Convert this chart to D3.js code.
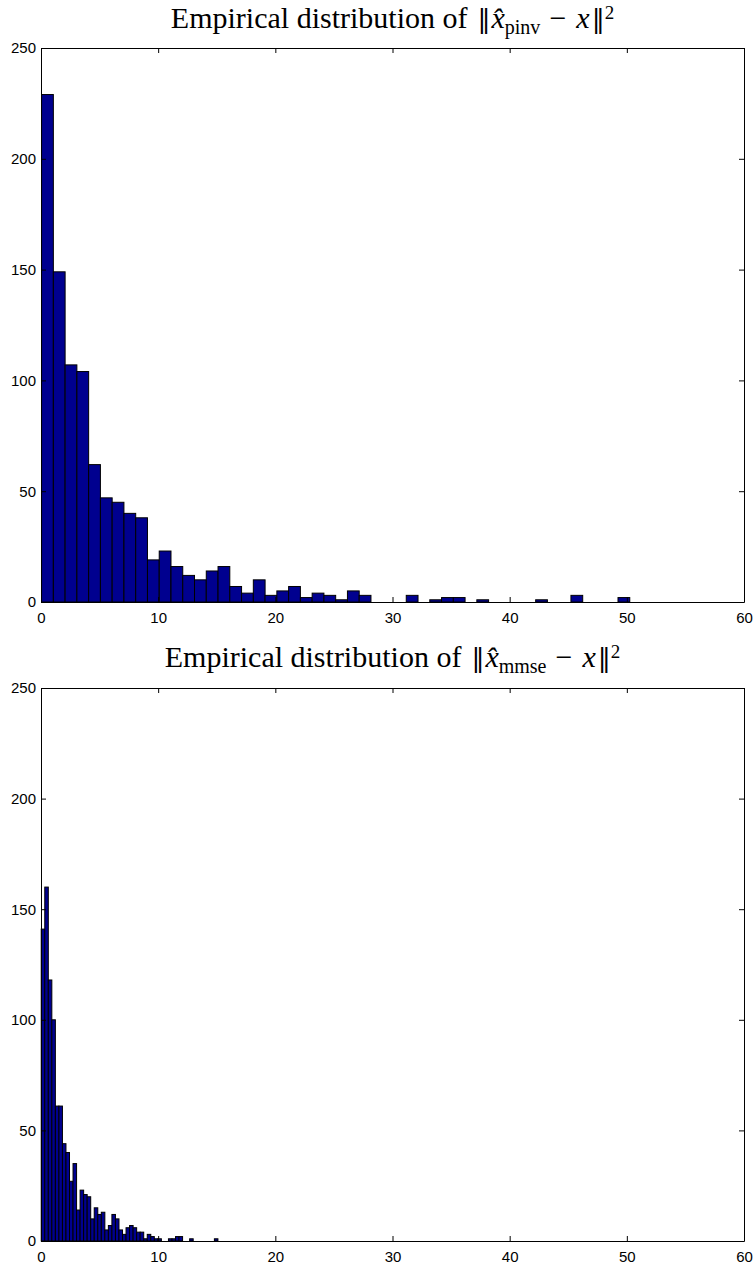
<!DOCTYPE html>
<html lang="en">
<head>
    <meta charset="UTF-8">
    <title>Empirical distributions</title>
    <script src="https://d3js.org/d3.v7.min.js"></script>
    <style>
        body { margin: 0; background: #fff; }
        .tick text { font-family: "Liberation Sans", Arial, sans-serif; font-size: 15px; fill: #000; }
        .axis path, .axis line { stroke: #000; }
        .title { font-family: "Liberation Serif", "DejaVu Serif", serif; font-size: 30px; fill: #000; }
        .norm { font-family: "DejaVu Serif", serif; font-size: 26px; }
    </style>
</head>
<body>
    <div id="chart"></div>

    <script>
        // Histogram counts, 50 bins each
        const pinvCounts = [229, 149, 107, 104, 62, 47, 45, 40, 38, 19,
                            23, 16, 12, 10, 14, 16, 7, 4, 10, 3,
                            5, 7, 2, 4, 3, 1, 5, 3, 0, 0,
                            0, 3, 0, 1, 2, 2, 0, 1, 0, 0,
                            0, 0, 1, 0, 0, 3, 0, 0, 0, 2];
        const pinvRange = [0.05, 50.25];

        const mmseCounts = [141, 160, 118, 100, 61, 61, 44, 40, 27, 35,
                            14, 23, 21, 20, 10, 15, 12, 13, 5, 7,
                            12, 10, 5, 3, 6, 7, 6, 4, 4, 1,
                            3, 2, 1, 1, 0, 0, 1, 1, 2, 2,
                            0, 0, 1, 0, 0, 0, 0, 0, 0, 1];
        const mmseRange = [0.02, 15.1];

        const xTicks = [0, 10, 20, 30, 40, 50, 60];
        const yTicks = [0, 50, 100, 150, 200, 250];

        // Layout
        const width = 755, height = 1268;
        const left = 41, right = 744;
        const panels = [
            { counts: pinvCounts, range: pinvRange, sub: "pinv", top: 48, bottom: 602, titleY: 28 },
            { counts: mmseCounts, range: mmseRange, sub: "mmse", top: 688, bottom: 1241, titleY: 667 }
        ];

        const svg = d3.select("#chart").append("svg")
            .attr("width", width)
            .attr("height", height);

        const x = d3.scaleLinear().domain([0, 60]).range([left, right]);

        panels.forEach(p => {
            const y = d3.scaleLinear().domain([0, 250]).range([p.bottom, p.top]);
            const g = svg.append("g");

            // bars
            const n = p.counts.length;
            const w = (p.range[1] - p.range[0]) / n;
            const bins = p.counts.map((c, i) => ({ x0: p.range[0] + i * w, x1: p.range[0] + (i + 1) * w, c }))
                .filter(d => d.c > 0);

            g.selectAll("rect")
                .data(bins)
                .enter().append("rect")
                .attr("x", d => x(d.x0))
                .attr("y", d => y(d.c))
                .attr("width", d => x(d.x1) - x(d.x0))
                .attr("height", d => y(0) - y(d.c))
                .attr("fill", "#00008f")
                .attr("stroke", "#000")
                .attr("stroke-width", 1);

            // axes, ticks pointing inwards
            g.append("g").attr("class", "axis")
                .attr("transform", `translate(0,${p.bottom})`)
                .call(d3.axisBottom(x).tickValues(xTicks).tickSizeInner(-5).tickSizeOuter(0).tickPadding(10));
            g.append("g").attr("class", "axis")
                .attr("transform", `translate(0,${p.top})`)
                .call(d3.axisTop(x).tickValues(xTicks).tickSizeInner(-5).tickSizeOuter(0).tickFormat(""));
            g.append("g").attr("class", "axis")
                .attr("transform", `translate(${left},0)`)
                .call(d3.axisLeft(y).tickValues(yTicks).tickSizeInner(-5).tickSizeOuter(0).tickPadding(5));
            g.append("g").attr("class", "axis")
                .attr("transform", `translate(${right},0)`)
                .call(d3.axisRight(y).tickValues(yTicks).tickSizeInner(-5).tickSizeOuter(0).tickFormat(""));

            // title
            const t = g.append("text")
                .attr("class", "title")
                .attr("x", (left + right) / 2)
                .attr("y", p.titleY)
                .attr("text-anchor", "middle");
            t.append("tspan").text("Empirical distribution of");
            t.append("tspan").attr("class", "norm").attr("dx", 10).text("\u2016");
            t.append("tspan").attr("font-style", "italic").attr("dx", 1).text("x\u0302");
            t.append("tspan").attr("font-size", "20px").attr("dy", 6).text(p.sub);
            t.append("tspan").attr("dy", -6).attr("dx", 9).text("\u2212");
            t.append("tspan").attr("font-style", "italic").attr("dx", 10).text("x");
            t.append("tspan").attr("class", "norm").attr("dx", 2).text("\u2016");
            t.append("tspan").attr("font-size", "19px").attr("dy", -9).text("2");
        });
    </script>
</body>
</html>
